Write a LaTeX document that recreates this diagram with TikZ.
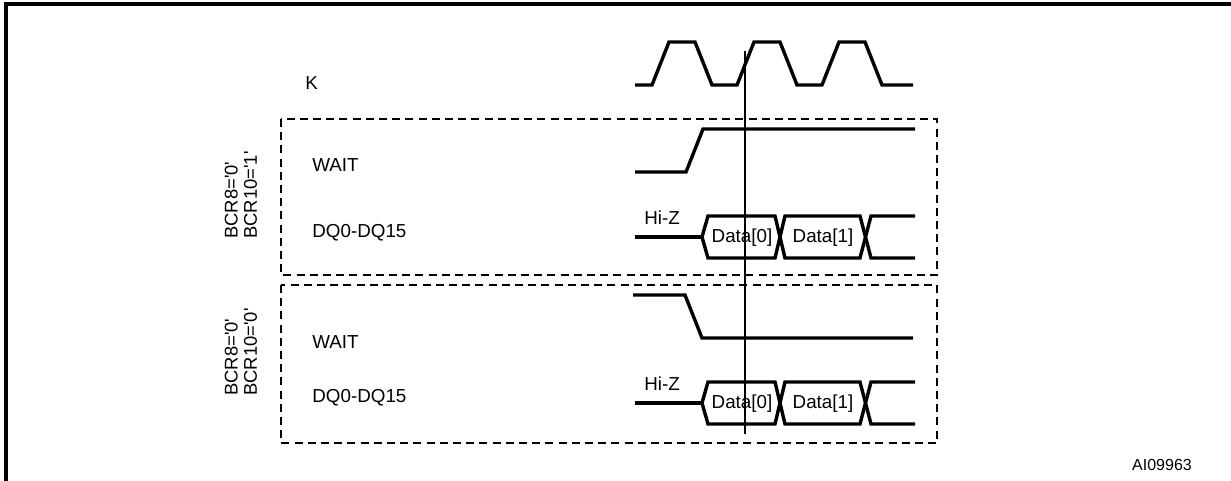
\documentclass[tikz,border=0pt]{standalone}
\usepackage{fontspec}
\setmainfont{Liberation Sans}
\begin{document}
\begin{tikzpicture}[x=0.5pt,y=-0.5pt,
  sig/.style={line width=1.7pt,line join=miter},
  cursor/.style={line width=0.7pt},
  grp/.style={draw,dashed,line width=0.7pt,dash pattern=on 4pt off 2.6pt},
  lbl/.style={font=\fontsize{9.4}{11}\selectfont,inner sep=0pt},
  cond/.style={font=\fontsize{9.2}{9.6}\selectfont,rotate=90,align=left,anchor=west,inner sep=0pt},
  frame/.style={line width=1.6pt}]
\useasboundingbox (0,0) rectangle (1231,481);
% outer frame (top and left visible)
\draw[frame] (6,481) -- (6,4) -- (1231,4);
% dashed groups
\draw[grp] (281,119) rectangle (937,275);
\draw[grp] (281,285) rectangle (937,443);
% labels
\node[lbl,anchor=west] (lk) at (305,83) {K};
\node[lbl,anchor=west] (lw1) at (312,165) {WAIT};
\node[lbl,anchor=west] (ld1) at (312,233) {DQ0-DQ15};
\node[lbl,anchor=west] (lw2) at (312,342) {WAIT};
\node[lbl,anchor=west] (ld2) at (312,398) {DQ0-DQ15};
\node[cond] (c1) at (241,239) {BCR8=\textquotesingle0\textquotesingle\\BCR10=\textquotesingle1\textquotesingle};
\node[cond] (c2) at (241,396) {BCR8=\textquotesingle0\textquotesingle\\BCR10=\textquotesingle0\textquotesingle};
\node[lbl] (hz1) at (662,218) {Hi-Z};
\node[lbl] (hz2) at (662,384) {Hi-Z};
\node[lbl] (d10) at (742,238) {Data[0]};
\node[lbl] (d11) at (823,238) {Data[1]};
\node[lbl] (d20) at (742,404) {Data[0]};
\node[lbl] (d21) at (823,404) {Data[1]};
\node[font=\fontsize{8}{9.6}\selectfont,inner sep=0pt] (id) at (1162,465) {AI09963};
% clock K
\draw[sig] (635,85) -- (652,85) -- (669,42) -- (695,42) -- (712,85) -- (737,85) -- (754,42) -- (780,42) -- (797,85) -- (822,85) -- (839,42) -- (865,42) -- (882,85) -- (913,85);
% WAIT (group 1)
\draw[sig] (635,172) -- (686,172) -- (703,129) -- (915,129);
% DQ (group 1)
\draw[sig] (635,237) -- (702,237);
\draw[sig] (702,237) -- (708,216) -- (775,216) -- (785,258) -- (860,258) -- (871,216) -- (915,216);
\draw[sig] (702,237) -- (708,258) -- (775,258) -- (785,216) -- (860,216) -- (871,258) -- (915,258);
% WAIT (group 2)
\draw[sig] (633,295) -- (685,295) -- (702,338) -- (913,338);
% DQ (group 2)
\draw[sig] (635,403) -- (702,403);
\draw[sig] (702,403) -- (708,382) -- (775,382) -- (785,424) -- (860,424) -- (871,382) -- (915,382);
\draw[sig] (702,403) -- (708,424) -- (775,424) -- (785,382) -- (860,382) -- (871,424) -- (915,424);
% cursor
\coordinate (ct) at (745,51);
\coordinate (cb) at (745,434);
\draw[cursor] (ct) -- (cb);
\end{tikzpicture}
\end{document}
